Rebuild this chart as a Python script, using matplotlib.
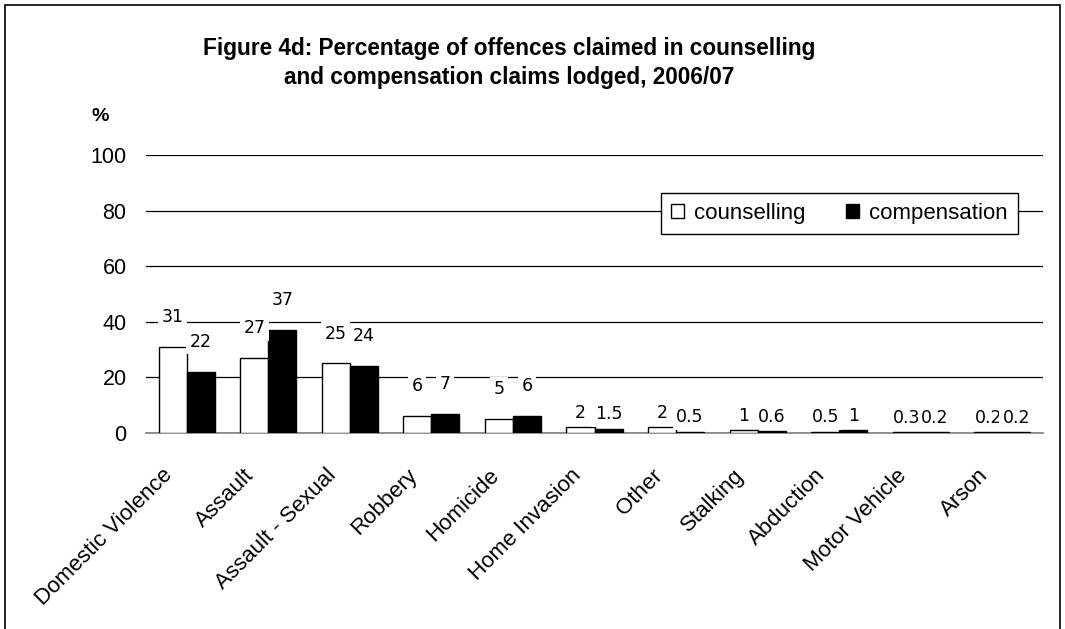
"""Figure 4d: offences claimed in counselling and compensation claims, 2006/07"""
import matplotlib
matplotlib.use("Agg")
import matplotlib.pyplot as plt
import numpy as np
from matplotlib.patches import Rectangle

CATEGORIES = ["Domestic Violence", "Assault", "Assault - Sexual", "Robbery",
              "Homicide", "Home Invasion", "Other", "Stalking", "Abduction",
              "Motor Vehicle", "Arson"]
COUNSELLING = [31, 27, 25, 6, 5, 2, 2, 1, 0.5, 0.3, 0.2]
COMPENSATION = [22, 37, 24, 7, 6, 1.5, 0.5, 0.6, 1, 0.2, 0.2]
Y_TICKS = [0, 20, 40, 60, 80, 100]

MAIN_FONT = ["Liberation Sans", "DejaVu Sans"]
NARROW_FONT = ["DejaVu Sans Condensed", "DejaVu Sans"]
LABEL_SHIFT = 0.3  # rotated category labels sit a little left of the bars

fig = plt.figure(figsize=(10.65, 6.29), dpi=100)
ax = fig.add_axes([0.1371, 0.3116, 0.8423, 0.442])

x = np.arange(len(CATEGORIES))
width = 0.344
b1 = ax.bar(x - width / 2, COUNSELLING, width, color="white",
            edgecolor="black", linewidth=1, label="counselling", zorder=3)
b2 = ax.bar(x + width / 2, COMPENSATION, width, color="black",
            edgecolor="black", linewidth=1, label="compensation", zorder=3)

# value labels: larger gap above the taller bars, as in the original
for bars, vals in ((b1, COUNSELLING), (b2, COMPENSATION)):
    for bar, v in zip(bars, vals):
        gap = 15 if v >= 5 else 4
        ax.annotate(f"{v:g}", (bar.get_x() + bar.get_width() / 2, v),
                    xytext=(0, gap), textcoords="offset points",
                    ha="center", va="bottom", fontsize=12.5,
                    family=NARROW_FONT, zorder=4,
                    bbox=dict(facecolor="white", edgecolor="none", pad=2.5))

ax.set_xlim(-0.5, len(CATEGORIES) - 0.5)
ax.set_ylim(0, 100)
ax.set_yticks(Y_TICKS)
ax.set_yticklabels([str(t) for t in Y_TICKS], fontsize=15.5, family=MAIN_FONT)
ax.yaxis.grid(True, color="black", linewidth=0.9, zorder=0)
ax.set_axisbelow(True)
ax.tick_params(axis="y", length=0, pad=14)

ax.set_xticks(x - LABEL_SHIFT)
ax.set_xticklabels(CATEGORIES, rotation=45, ha="right", va="top",
                   rotation_mode="anchor", fontsize=16, family=MAIN_FONT)
ax.tick_params(axis="x", length=0, pad=23)

for side in ("left", "right", "top"):
    ax.spines[side].set_visible(False)
ax.spines["bottom"].set_color("#808080")
ax.spines["bottom"].set_linewidth(1.2)

leg = ax.legend(loc="upper right", bbox_to_anchor=(0.972, 0.863), ncol=2,
                fancybox=False, framealpha=1, edgecolor="black",
                prop={"family": MAIN_FONT, "size": 16},
                handlelength=0.6, handleheight=0.6, handletextpad=0.45,
                columnspacing=1.8, borderpad=0.45, borderaxespad=0)
leg.get_frame().set_linewidth(1.0)
leg.set_zorder(5)

fig.text(0.478, 0.9, "Figure 4d: Percentage of offences claimed in counselling\n"
         "and compensation claims lodged, 2006/07",
         ha="center", va="center", fontsize=16.3, fontweight="bold",
         family=MAIN_FONT, linespacing=1.3)
fig.text(0.094, 0.815, "%", ha="center", va="center", fontsize=14,
         fontweight="bold", family=MAIN_FONT)

fig.patches.append(Rectangle((0.005, -0.01), 0.990, 1.002, transform=fig.transFigure,
                             fill=False, edgecolor="black", linewidth=1.2))

fig.savefig("out.png", dpi=100)
